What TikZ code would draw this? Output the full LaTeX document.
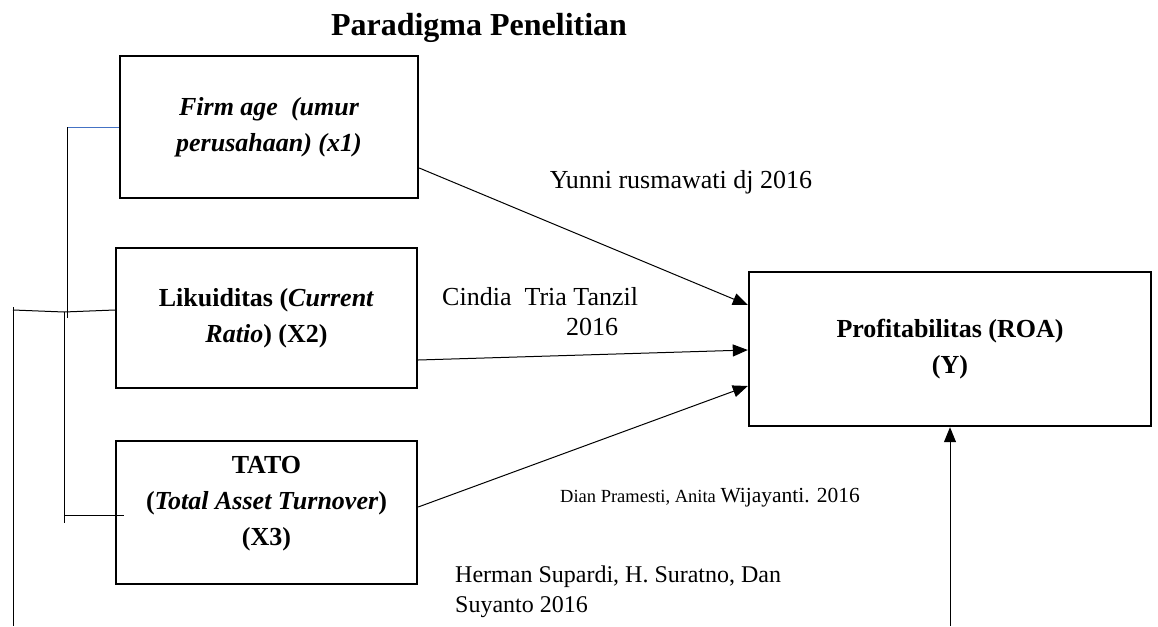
\documentclass[tikz,border=0pt]{standalone}
\usepackage{fontspec}
\setmainfont{Liberation Serif}
\usetikzlibrary{arrows.meta}
\definecolor{linkblue}{HTML}{4472C4}
\begin{document}
\begin{tikzpicture}[x=1pt,y=-1pt,
  varbox/.style={draw,line width=2.4pt,inner sep=0pt,align=center,
    font=\fontsize{26}{36}\selectfont\bfseries},
  boxtext/.style={inner sep=0pt,align=center,font=\fontsize{26}{36}\selectfont\bfseries},
  conn/.style={line width=1pt},
  arr/.style={line width=1pt,-{Triangle[length=15pt,width=12pt]}},
  lbl/.style={inner sep=0pt,font=\fontsize{26}{30}\selectfont}
]
\useasboundingbox (0,0) rectangle (1158,626);

\node[font=\fontsize{32}{36}\selectfont\bfseries] (title) at (479,28) {Paradigma Penelitian};

\node[varbox,minimum width=298pt,minimum height=142pt] (b1) at (269,127)
  {\itshape Firm age\ \ (umur\\\itshape perusahaan) (x1)};
\node[varbox,minimum width=301pt,minimum height=140pt] (b2) at (266.5,318)
  {Likuiditas (\textit{Current}\\\textit{Ratio}) (X2)};
\node[varbox,minimum width=301pt,minimum height=143pt] (b3) at (266.5,512.5) {};
\node[boxtext] (b3t) at (266.5,504)
  {TATO\\(\textit{Total Asset Turnover})\\(X3)};
\node[varbox,minimum width=402pt,minimum height=154pt] (y) at (950,349)
  {Profitabilitas (ROA)\\(Y)};

% arrows into Y
\draw[arr] ([yshift=-41pt]b1.east) -- ([yshift=44pt]y.west);
\draw[arr] ([yshift=-42pt]b2.east) -- ([yshift=-1pt]y.west);
\draw[arr] ([yshift=5.5pt]b3.east) -- ([yshift=-37pt]y.west);
\coordinate (bot) at (950,626);
\draw[arr] (bot) -- (y.south);

% bracket lines on the left
\coordinate (v1top) at (67,127);
\coordinate (v1bot) at (67,318);
\coordinate (h2a) at (13,310);
\coordinate (h2b) at (64,312);
\coordinate (v2top) at (64,312);
\coordinate (v2bot) at (64,523);
\coordinate (h3a) at (64,515);
\coordinate (farTop) at (13,307);
\coordinate (farBot) at (13,626);
\draw[line width=0.8pt,linkblue] (v1top) -- (b1.west);
\draw[conn] (v1top) -- (v1bot);
\draw[conn] (h2a) -- (h2b) -- ([yshift=8pt]b2.west);
\draw[conn] (v2top) -- (v2bot);
\draw[conn] (h3a) -- ([xshift=9pt,yshift=-2.5pt]b3.west);
\draw[conn] (farTop) -- (farBot);

% labels
\node[lbl] (l1) at (681,182) {Yunni rusmawati dj 2016};
\node[lbl,align=left,anchor=west] (l2) at (442,312)
  {Cindia\ \ Tria Tanzil\\\hspace*{124pt}2016};
\node[inner sep=0pt,anchor=west] (l3) at (560,498)
  {\fontsize{18.5}{22}\selectfont Dian Pramesti, Anita \fontsize{21.5}{24}\selectfont Wijayanti. 2016};
\node[inner sep=0pt,align=left,anchor=west,font=\fontsize{24}{30}\selectfont] (l4) at (455,592)
  {Herman Supardi, H. Suratno, Dan\\Suyanto 2016};
\end{tikzpicture}
\end{document}
